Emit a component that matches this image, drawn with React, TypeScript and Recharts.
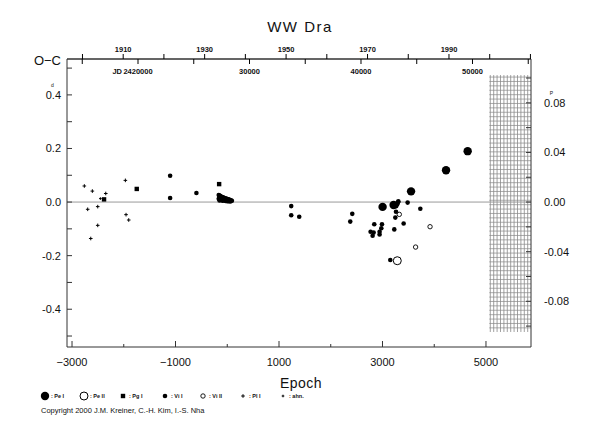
import React from 'react';
import { ScatterChart, Scatter, XAxis, YAxis, ReferenceLine, ReferenceArea } from 'recharts';

type Pt = { epoch: number; oc: number };

const peI: Pt[] = [
  { epoch: 3002, oc: -0.018 }, { epoch: 3215, oc: -0.011 }, { epoch: 3552, oc: 0.040 },
  { epoch: 4228, oc: 0.119 }, { epoch: 4646, oc: 0.190 },
];
const peII: Pt[] = [{ epoch: 3286, oc: -0.219 }];
const pgI: Pt[] = [
  { epoch: -2381, oc: 0.010 }, { epoch: -1749, oc: 0.049 }, { epoch: -157, oc: 0.067 },
];
const viI: Pt[] = [
  { epoch: -1104, oc: 0.098 }, { epoch: -1104, oc: 0.015 }, { epoch: -596, oc: 0.034 },
  { epoch: -165, oc: 0.026 }, { epoch: -150, oc: 0.024 }, { epoch: -135, oc: 0.022 },
  { epoch: -120, oc: 0.021 }, { epoch: -105, oc: 0.019 }, { epoch: -90, oc: 0.018 },
  { epoch: -75, oc: 0.017 }, { epoch: -60, oc: 0.015 }, { epoch: -45, oc: 0.014 },
  { epoch: -30, oc: 0.013 }, { epoch: -15, oc: 0.012 }, { epoch: 0, oc: 0.011 },
  { epoch: 15, oc: 0.010 }, { epoch: 30, oc: 0.009 }, { epoch: 45, oc: 0.008 },
  { epoch: 60, oc: 0.007 }, { epoch: 75, oc: 0.006 }, { epoch: 90, oc: 0.005 },
  { epoch: -165, oc: 0.012 }, { epoch: -150, oc: 0.006 }, { epoch: -120, oc: 0.008 },
  { epoch: -90, oc: 0.005 }, { epoch: -60, oc: 0.006 }, { epoch: -30, oc: 0.004 },
  { epoch: 0, oc: 0.003 }, { epoch: 30, oc: 0.003 }, { epoch: 60, oc: 0.002 },
  { epoch: 1236, oc: -0.015 }, { epoch: 1236, oc: -0.049 }, { epoch: 1391, oc: -0.055 },
  { epoch: 2416, oc: -0.044 }, { epoch: 2377, oc: -0.073 }, { epoch: 2841, oc: -0.083 },
  { epoch: 2990, oc: -0.083 }, { epoch: 2977, oc: -0.098 }, { epoch: 2770, oc: -0.111 },
  { epoch: 2829, oc: -0.114 }, { epoch: 2809, oc: -0.126 }, { epoch: 2944, oc: -0.111 },
  { epoch: 2944, oc: -0.121 }, { epoch: 3228, oc: -0.102 }, { epoch: 3409, oc: -0.080 },
  { epoch: 3248, oc: -0.058 }, { epoch: 3261, oc: -0.036 }, { epoch: 3267, oc: -0.015 },
  { epoch: 3300, oc: -0.001 }, { epoch: 3306, oc: 0.003 }, { epoch: 3285, oc: -0.008 },
  { epoch: 3486, oc: -0.002 }, { epoch: 3731, oc: -0.025 }, { epoch: 3151, oc: -0.216 },
];
const viII: Pt[] = [
  { epoch: 3325, oc: -0.046 }, { epoch: 3640, oc: -0.168 }, { epoch: 3919, oc: -0.092 },
];
const plI: Pt[] = [
  { epoch: -2762, oc: 0.060 }, { epoch: -2697, oc: -0.027 }, { epoch: -2607, oc: 0.041 },
  { epoch: -2503, oc: -0.017 }, { epoch: -2503, oc: -0.087 }, { epoch: -2638, oc: -0.136 },
  { epoch: -2348, oc: 0.032 }, { epoch: -1969, oc: 0.081 }, { epoch: -1956, oc: -0.047 },
  { epoch: -1904, oc: -0.067 },
];
const ahn: Pt[] = [{ epoch: -2452, oc: 0.013 }];
const none: { jd: number; yr: number; oc: number }[] = [];

const epochDomain = [-3097, 5870];
const epochTicks = [-3000, -2000, -1000, 0, 1000, 2000, 3000, 4000, 5000];
const ocDomain = [-0.541, 0.534];
const ocTicks = [-0.5, -0.4, -0.3, -0.2, -0.1, 0, 0.1, 0.2, 0.3, 0.4, 0.5];
const period = 4.63;
const phaseDomain = [ocDomain[0] / period, ocDomain[1] / period];
const phaseTicks = [-0.1, -0.08, -0.06, -0.04, -0.02, 0, 0.02, 0.04, 0.06, 0.08, 0.1];
const jdDomain = [2413632, 2455247];
const jdTicks = [2415000, 2420000, 2425000, 2430000, 2435000, 2440000, 2445000, 2450000, 2455000];
const jdLabels: Record<number, string> = { 2420000: '2420000', 2430000: '30000', 2440000: '40000', 2450000: '50000' };
const yearDomain = [1896.2, 2010.14];
const yearTicks = [1900, 1910, 1920, 1930, 1940, 1950, 1960, 1970, 1980, 1990, 2000, 2010];
const yearLabels = [1910, 1930, 1950, 1970, 1990];
const hatch = { x1: 5064, y1: -0.485, y2: 0.474 };

const FONT = '"Liberation Sans", Arial, Helvetica, sans-serif';
const AX = '#333';
const INK = '#111';

const BottomTick = (p: any) => {
  const { x, y, payload } = p;
  const v = payload.value;
  const major = Math.abs(v) % 2000 === 1000;
  return (
    <g>
      <line x1={x} x2={x} y1={y} y2={y - (major ? 6 : 3)} stroke={AX} />
      {major && (
        <text x={x} y={y + 19} textAnchor="middle" fontSize={11} fontFamily={FONT} fill={INK}>
          {v < 0 ? '\u2212' + Math.abs(v) : String(v)}
        </text>
      )}
    </g>
  );
};

const LeftTick = (p: any) => {
  const { x, y, payload } = p;
  const v = payload.value;
  const k = Math.round(v * 10);
  const lab = k % 2 === 0 && Math.abs(k) < 5;
  const txt = (k < 0 ? '-' : '') + '0.' + Math.abs(k);
  return (
    <g>
      <line x1={x} x2={x + 5} y1={y} y2={y} stroke={AX} />
      {lab && (
        <text x={x - 6} y={y + 4} textAnchor="end" fontSize={11} fontFamily={FONT} fill={INK}>{txt}</text>
      )}
      {k === 4 && (
        <text x={x - 14.5} y={y - 7.5} textAnchor="middle" fontSize={5} fontFamily={FONT} fill={INK}>d</text>
      )}
    </g>
  );
};

const RightTick = (p: any) => {
  const { x, y, payload } = p;
  const v = payload.value;
  const k = Math.round(v * 100);
  const lab = k % 4 === 0 && Math.abs(k) < 10;
  const txt = (k < 0 ? '-' : '') + '0.' + String(Math.abs(k)).padStart(2, '0');
  return (
    <g>
      <line x1={x} x2={x - 5} y1={y} y2={y} stroke={AX} />
      {lab && (
        <text x={x + 13} y={y + 4} textAnchor="start" fontSize={11} fontFamily={FONT} fill={INK}>{txt}</text>
      )}
      {k === 8 && (
        <text x={x + 20.5} y={y - 7.5} textAnchor="middle" fontSize={5} fontFamily={FONT} fill={INK}>P</text>
      )}
    </g>
  );
};

const JdTick = (p: any) => {
  const { x, y, payload } = p;
  const v = payload.value;
  const lab = jdLabels[v];
  return (
    <g>
      <line x1={x} x2={x} y1={y} y2={y + 5} stroke="#000" strokeWidth={1} />
      {lab && (
        <text x={x} y={y + 15} textAnchor="middle" fontSize={7.5} fontWeight="bold" fontFamily={FONT} fill={INK}>{lab}</text>
      )}
      {v === 2420000 && (
        <text x={x - 16} y={y + 15} textAnchor="end" fontSize={7.5} fontWeight="bold" fontFamily={FONT} fill={INK}>JD</text>
      )}
    </g>
  );
};

const YearTick = (p: any) => {
  const { x, y, payload } = p;
  const v = payload.value;
  const lab = yearLabels.includes(v);
  return (
    <g>
      <line x1={x} x2={x} y1={y + 1} y2={y - 4} stroke="#000" strokeWidth={1} />
      {lab && (
        <text x={x} y={y - 6} textAnchor="middle" fontSize={7.5} fontWeight="bold" fontFamily={FONT} fill={INK}>{v}</text>
      )}
    </g>
  );
};

const bigDot = (p: any) => <circle cx={p.cx} cy={p.cy} r={4.2} fill="#000" />;
const bigRing = (p: any) => <circle cx={p.cx} cy={p.cy} r={4} fill="#fff" stroke="#000" strokeWidth={1} />;
const square = (p: any) => <rect x={p.cx - 2.2} y={p.cy - 2.2} width={4.4} height={4.4} fill="#000" />;
const smallDot = (p: any) => <circle cx={p.cx} cy={p.cy} r={2.3} fill="#000" />;
const smallRing = (p: any) => <circle cx={p.cx} cy={p.cy} r={2.2} fill="#fff" stroke="#000" strokeWidth={0.9} />;
const plus = (p: any) => (
  <g stroke="#000" strokeWidth={1}>
    <line x1={p.cx - 1.8} x2={p.cx + 1.8} y1={p.cy} y2={p.cy} />
    <line x1={p.cx} x2={p.cx} y1={p.cy - 1.8} y2={p.cy + 1.8} />
  </g>
);
const smallPlus = (p: any) => (
  <g stroke="#000" strokeWidth={1}>
    <line x1={p.cx - 1.3} x2={p.cx + 1.3} y1={p.cy} y2={p.cy} />
    <line x1={p.cx} x2={p.cx} y1={p.cy - 1.3} y2={p.cy + 1.3} />
  </g>
);

const HatchShape = (p: any) => {
  const { x, y, width, height } = p;
  const lines: React.ReactNode[] = [];
  for (let xx = x + 1; xx <= x + width; xx += 3.4) {
    lines.push(<line key={'v' + xx} x1={xx} x2={xx} y1={y} y2={y + height} stroke="#777" strokeWidth={0.7} />);
  }
  for (let yy = y + 2; yy <= y + height; yy += 4.4) {
    lines.push(<line key={'h' + yy} x1={x} x2={x + width} y1={yy} y2={yy} stroke="#888" strokeWidth={0.7} />);
  }
  return <g>{lines}</g>;
};

const legendItems = [
  { x: 45, label: ': Pe I', shape: 'bigDot' },
  { x: 84, label: ': Pe II', shape: 'bigRing' },
  { x: 123, label: ': Pg I', shape: 'square' },
  { x: 165, label: ': Vi I', shape: 'smallDot' },
  { x: 203, label: ': Vi II', shape: 'smallRing' },
  { x: 243, label: ': Pl I', shape: 'plus' },
  { x: 283, label: ': ahn.', shape: 'smallPlus' },
];
const legendShapes: Record<string, (p: any) => React.ReactNode> = { bigDot, bigRing, square, smallDot, smallRing, plus, smallPlus };

export default function App() {
  return (
    <div style={{ position: 'absolute', left: 0, top: 0, width: 590, height: 425, background: '#fff' }}>
      <ScatterChart width={590} height={425} margin={{ top: 57, right: 58, bottom: 77, left: 66 }}>
        <XAxis xAxisId="e" dataKey="epoch" type="number" domain={epochDomain} ticks={epochTicks} allowDataOverflow
          orientation="bottom" height={1} tickSize={0} tickMargin={0} interval={0} tickLine={false}
          axisLine={{ stroke: AX }} tick={<BottomTick />} />
        <XAxis xAxisId="jd" dataKey="jd" type="number" domain={jdDomain} ticks={jdTicks} allowDataOverflow
          orientation="top" height={1} tickSize={0} tickMargin={0} interval={0} tickLine={false}
          axisLine={{ stroke: AX }} tick={<JdTick />} />
        <XAxis xAxisId="yr" dataKey="yr" type="number" domain={yearDomain} ticks={yearTicks} allowDataOverflow
          orientation="top" height={1} tickSize={0} tickMargin={0} interval={0} tickLine={false}
          axisLine={false} tick={<YearTick />} />
        <YAxis yAxisId="d" dataKey="oc" type="number" domain={ocDomain} ticks={ocTicks} allowDataOverflow
          orientation="left" width={1} tickSize={0} tickMargin={0} interval={0} tickLine={false}
          axisLine={{ stroke: AX }} tick={<LeftTick />} />
        <YAxis yAxisId="p" type="number" domain={phaseDomain} ticks={phaseTicks} allowDataOverflow
          orientation="right" width={1} tickSize={0} tickMargin={0} interval={0} tickLine={false}
          axisLine={{ stroke: AX }} tick={<RightTick />} />
        <ReferenceLine xAxisId="e" yAxisId="d" y={ocDomain[1]} stroke={AX} strokeWidth={1} ifOverflow="visible" />
        <ReferenceLine xAxisId="e" yAxisId="d" y={0} stroke="#9a9a9a" strokeWidth={1} />
        <ReferenceArea xAxisId="e" yAxisId="d" x1={hatch.x1} x2={epochDomain[1]} y1={hatch.y1} y2={hatch.y2}
          shape={<HatchShape />} ifOverflow="visible" />
        <Scatter xAxisId="jd" yAxisId="d" data={none} isAnimationActive={false} />
        <Scatter xAxisId="yr" yAxisId="d" data={none} isAnimationActive={false} />
        <Scatter xAxisId="e" yAxisId="d" data={plI} shape={plus} isAnimationActive={false} />
        <Scatter xAxisId="e" yAxisId="d" data={ahn} shape={smallPlus} isAnimationActive={false} />
        <Scatter xAxisId="e" yAxisId="d" data={pgI} shape={square} isAnimationActive={false} />
        <Scatter xAxisId="e" yAxisId="d" data={viI} shape={smallDot} isAnimationActive={false} />
        <Scatter xAxisId="e" yAxisId="d" data={viII} shape={smallRing} isAnimationActive={false} />
        <Scatter xAxisId="e" yAxisId="d" data={peI} shape={bigDot} isAnimationActive={false} />
        <Scatter xAxisId="e" yAxisId="d" data={peII} shape={bigRing} isAnimationActive={false} />
      </ScatterChart>
      <svg width={590} height={425} style={{ position: 'absolute', left: 0, top: 0, pointerEvents: 'none' }}>
        <text x={300} y={32} textAnchor="middle" fontSize={15} letterSpacing={1.5} fontFamily={FONT} fill={INK}>WW  Dra</text>
        <text x={61} y={65} textAnchor="end" fontSize={13} fontFamily={FONT} fill={INK}>O−C</text>
        <text x={301} y={388} textAnchor="middle" fontSize={14} letterSpacing={0.5} fontFamily={FONT} fill={INK}>Epoch</text>
        {legendItems.map((it) => (
          <g key={it.label}>
            {legendShapes[it.shape]({ cx: it.x, cy: 396 })}
            <text x={it.x + 6} y={398} fontSize={5.5} fontWeight="bold" fontFamily={FONT} fill={INK}>{it.label}</text>
          </g>
        ))}
        <text x={41} y={413} fontSize={7.5} fontFamily={FONT} fill={INK}>Copyright 2000 J.M. Kreiner, C.-H. Kim, I.-S. Nha</text>
      </svg>
    </div>
  );
}
